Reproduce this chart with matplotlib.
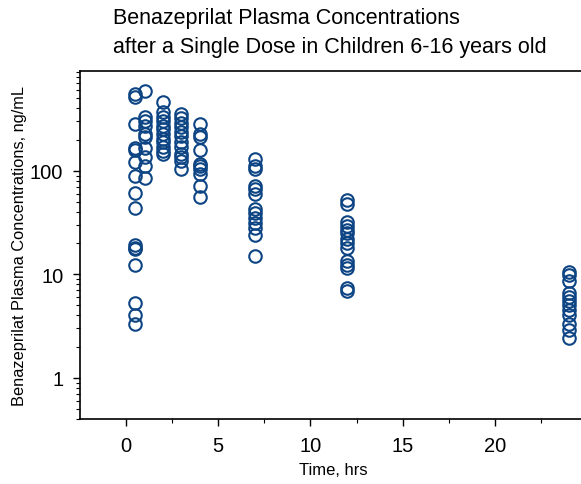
import numpy as np
import matplotlib.pyplot as plt
from matplotlib.ticker import FixedLocator, NullFormatter

plt.rcParams['font.family'] = ['Liberation Sans', 'DejaVu Sans']

# concentrations (ng/mL), grouped by sampling time (hrs)
t_05 = [550, 515, 283, 165, 160, 122, 90, 61, 44, 19, 18, 17.5, 12.2, 5.3, 4.0, 3.3]
t_1 = [590, 330, 300, 270, 227, 212, 166, 136, 110, 86]
t_2 = [460, 370, 330, 300, 270, 254, 227, 203, 190, 170, 155, 145]
t_3 = [353, 323, 290, 265, 237, 217, 190, 170, 145, 136, 125, 104]
t_4 = [283, 227, 212, 159, 117, 110, 104, 94, 72, 56]
t_7 = [130, 112, 104, 72, 66, 59, 43, 39.5, 35, 31, 27.7, 24, 14.9]
t_12 = [52, 48, 32, 29.6, 27, 24.8, 22, 20, 17.8, 13.3, 12.2, 11.4, 7.3, 6.9]
t_24 = [10.5, 9.8, 8.7, 6.6, 6.0, 5.5, 5.1, 4.5, 4.0, 3.3, 2.9, 2.4]

times = [0.5, 1, 2, 3, 4, 7, 12, 24]
groups = [t_05, t_1, t_2, t_3, t_4, t_7, t_12, t_24]

x = np.concatenate([[t] * len(g) for t, g in zip(times, groups)])
y = np.concatenate(groups)

fig = plt.figure(figsize=(5.81, 4.85), dpi=100)
ax = fig.add_axes([80 / 581, 65 / 485, 507 / 581, 348 / 485])

ax.plot(x, y, 'o', mfc='none', mec='#0d4484', mew=1.5, ms=9, clip_on=False)

ax.set_yscale('log')
ax.set_xlim(-2.5, 25)
ax.set_ylim(0.4, 920)

ax.set_xticks([0, 5, 10, 15, 20])
ax.xaxis.set_minor_locator(FixedLocator([2.5, 7.5, 12.5, 17.5, 22.5]))
ax.set_yticks([1, 10, 100])
ax.set_yticklabels(['1', '10', '100'])
ax.yaxis.set_minor_formatter(NullFormatter())

ax.tick_params(which='major', direction='out', length=5, width=1, labelsize=14.5, pad=7)
ax.tick_params(which='minor', direction='out', length=3, width=0.8)

ax.spines['right'].set_visible(False)
for s in ['left', 'top', 'bottom']:
    ax.spines[s].set_linewidth(1.2)

ax.set_xlabel('Time, hrs', fontsize=12, labelpad=5)
ax.set_ylabel('Benazeprilat Plasma Concentrations, ng/mL', fontsize=11.8, labelpad=2)

fig.text(113 / 581, 1 - 8 / 485,
         'Benazeprilat Plasma Concentrations\nafter a Single Dose in Children 6-16 years old',
         ha='left', va='top', fontsize=15.5, linespacing=1.5)

fig.savefig('out.png', dpi=100)
